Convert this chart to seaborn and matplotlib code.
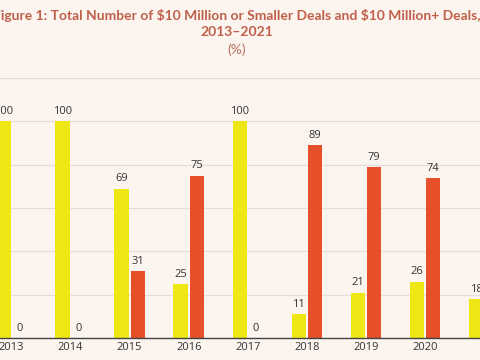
import pandas as pd
import matplotlib.pyplot as plt
import seaborn as sns

years = ["2013", "2014", "2015", "2016", "2017", "2018", "2019", "2020", "2021"]
small_deals = [100, 100, 69, 25, 100, 11, 21, 26, 18]
large_deals = [0, 0, 31, 75, 0, 89, 79, 74, 82]
series = ["$10 Million or Smaller", "$10 Million+"]

df = pd.DataFrame({
    "year": years * 2,
    "value": small_deals + large_deals,
    "type": [series[0]] * len(years) + [series[1]] * len(years),
})

bg = "#FCF4EF"
sns.set_theme(style="white")
plt.rcParams["font.family"] = ["Lato", "DejaVu Sans"]

fig = plt.figure(figsize=(4.8, 3.6), dpi=100, facecolor=bg)
ax = fig.add_axes([0, 22 / 360, 1, 260 / 360], facecolor=bg)

sns.barplot(data=df, x="year", y="value", hue="type",
            palette=["#EEE615", "#E5502B"], width=0.55, gap=0.12,
            saturation=1, linewidth=0, legend=False, ax=ax)

for c in ax.containers:
    ax.bar_label(c, padding=3, fontsize=8, color="#333333", family="Open Sans")

ax.set_ylim(0, 120)
ax.set_xlim(-0.195, 7.93)
ax.set_yticks(range(0, 121, 20))
ax.yaxis.grid(True, color="#E6DDD7", linewidth=0.9)
ax.set_axisbelow(True)
ax.set_yticklabels([])
ax.tick_params(axis="y", length=0)
ax.tick_params(axis="x", length=0, pad=3, labelsize=8, labelcolor="#333333")
for lbl in ax.get_xticklabels():
    lbl.set_family("Open Sans")
ax.set_xlabel("")
ax.set_ylabel("")
for s in ["top", "left", "right"]:
    ax.spines[s].set_visible(False)
ax.spines["bottom"].set_color("#444444")
ax.spines["bottom"].set_linewidth(1)

fig.text(0.494, 1 - 15 / 360,
         "Figure 1: Total Number of \\$10 Million or Smaller Deals and \\$10 Million+ Deals,",
         ha="center", va="center", fontsize=10, fontweight="bold", color="#C0604A")
fig.text(0.494, 1 - 32 / 360, "2013\u20132021", ha="center", va="center",
         fontsize=10, fontweight="bold", color="#C0604A")
fig.text(0.494, 1 - 50 / 360, "(%)", ha="center", va="center",
         fontsize=10, color="#B8705E")

fig.savefig("out.png", dpi=100, facecolor=bg)
